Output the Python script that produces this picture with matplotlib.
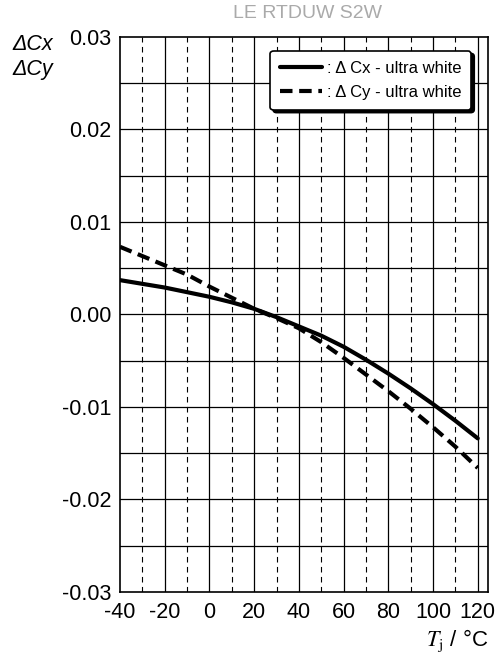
import matplotlib
matplotlib.use("Agg")
import matplotlib.pyplot as plt

plt.rcParams['font.family'] = ['Liberation Sans', 'DejaVu Sans']
plt.rcParams['axes.unicode_minus'] = False

# junction temperature (degC)
tj = [-40, -30, -20, -10, 0, 10, 20, 30, 40, 50, 60, 70, 80, 90, 100, 110, 120]
# colour shift Cx, ultra white
dcx = [0.0037, 0.0033, 0.0029, 0.0024, 0.0019, 0.0013, 0.0006, -0.0003, -0.0013,
       -0.0023, -0.0035, -0.0049, -0.0064, -0.0080, -0.0097, -0.0115, -0.0134]
# colour shift Cy, ultra white
dcy = [0.0073, 0.0063, 0.0053, 0.0043, 0.0030, 0.0018, 0.0006, -0.0004, -0.0015,
       -0.0030, -0.0047, -0.0065, -0.0083, -0.0102, -0.0122, -0.0143, -0.0166]

x_ticks = [-40, -20, 0, 20, 40, 60, 80, 100, 120]
y_ticks = [-0.03, -0.02, -0.01, 0.00, 0.01, 0.02, 0.03]

fig = plt.figure(figsize=(4.98, 6.57), dpi=100)
ax = fig.add_axes([0.241, 0.099, 0.739, 0.845])

# grid: solid every 20 / 0.005, dashed at the odd tens
for xv in range(-20, 121, 20):
    ax.axvline(xv, color='black', lw=0.9, zorder=1)
for xv in range(-30, 120, 20):
    ax.axvline(xv, color='black', lw=0.8, ls=(0, (5, 4)), zorder=1)
for i in range(-5, 6):
    ax.axhline(i * 0.005, color='black', lw=0.9, zorder=1)

ax.plot(tj, dcx, color='black', lw=3, solid_capstyle='round',
        label=': \u0394 Cx - ultra white', zorder=3)
ax.plot(tj, dcy, color='black', lw=3, ls=(0, (3, 1.6)),
        label=': \u0394 Cy - ultra white', zorder=3)

ax.set_xlim(-40, 124.6)
ax.set_ylim(-0.03, 0.03)
ax.set_xticks(x_ticks)
ax.set_yticks(y_ticks)
ax.set_yticklabels(['-0.03', '-0.02', '-0.01', '0.00', '0.01', '0.02', '0.03'])
ax.tick_params(labelsize=15.5, length=0)
ax.tick_params(axis='x', pad=7)
ax.tick_params(axis='y', pad=6)
for s in ax.spines.values():
    s.set_linewidth(1.2)

leg = ax.legend(loc='upper right', bbox_to_anchor=(0.955, 0.975), fontsize=12,
                frameon=True, fancybox=True, shadow={'color': 'black', 'alpha': 1},
                handlelength=2.5, handletextpad=0.3, borderpad=0.6, labelspacing=0.55,
                borderaxespad=0)
leg.get_frame().set_edgecolor('black')
leg.get_frame().set_linewidth(1.2)

fig.text(0.617, 0.979, 'LE RTDUW S2W', color='#aaaaaa', fontsize=14,
         ha='center', va='center')
fig.text(0.066, 0.932, '\u0394Cx', fontsize=15.5, style='italic', ha='center', va='center')
fig.text(0.066, 0.894, '\u0394Cy', fontsize=15.5, style='italic', ha='center', va='center')
fig.text(0.918, 0.024, '$T_\\mathrm{j}$ / \u00b0C', fontsize=16, ha='center', va='center',
         math_fontfamily='stix')

fig.savefig('out.png', dpi=100)
